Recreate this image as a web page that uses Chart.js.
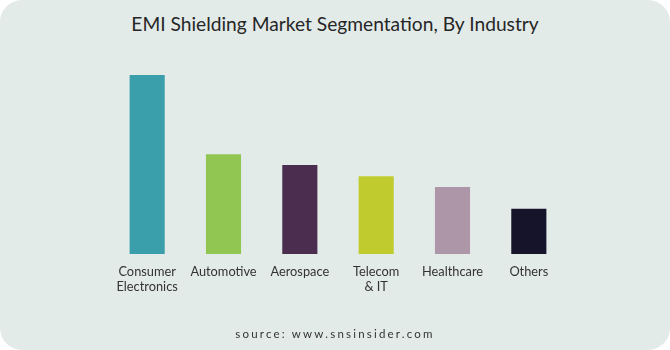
<!DOCTYPE html>
<html>
<head>
<meta charset="utf-8">
<script src="https://cdn.jsdelivr.net/npm/chart.js@4"></script>
<style>
  html, body { margin:0; padding:0; background:#ffffff; }
  #card { position:absolute; left:0; top:0; width:670px; height:350px; background:#e3ebe9; border-radius:22px; overflow:hidden; }
  #title { position:absolute; left:0; top:12px; width:670px; text-align:center; font-family:"Lato", sans-serif; font-size:19.2px; color:#262626; }
  #source { position:absolute; left:0; top:327px; width:670px; text-align:center; font-family:"Lato", sans-serif; font-size:11.5px; letter-spacing:2.2px; color:#333; }
  #wrap { position:absolute; left:0; top:0; width:670px; height:350px; }
</style>
</head>
<body>
<div id="card">
  <div id="title">EMI Shielding Market Segmentation, By Industry</div>
  <div id="wrap"><canvas id="c" width="670" height="350"></canvas></div>
  <div id="source">source: www.snsinsider.com</div>
</div>
<script>
const categories = [["Consumer","Electronics"], "Automotive", "Aerospace", ["Telecom","& IT"], "Healthcare", "Others"];
const shareValues = [40, 22.3, 19.9, 17.4, 15.0, 10.1];
const barColors = ["#3a9faa", "#92c653", "#4a2d4f", "#c0cc2e", "#ad96a8", "#15142a"];

new Chart(document.getElementById('c'), {
  type: 'bar',
  data: {
    labels: categories,
    datasets: [{ data: shareValues, backgroundColor: barColors, borderWidth: 0 }]
  },
  options: {
    responsive: false,
    animation: false,
    layout: { padding: { top: 75, bottom: 56, left: 109, right: 103 } },
    plugins: { legend: { display: false }, tooltip: { enabled: false }, title: { display: false } },
    scales: {
      x: {
        grid: { display: false, drawTicks: false },
        border: { display: false },
        ticks: { padding: 10, color: '#333', font: { family: 'Lato', size: 12.8 }, maxRotation: 0, autoSkip: false },
        afterFit: (s) => { s.height = 40; }
      },
      y: { display: false, min: 0, max: 40 }
    },
    datasets: { bar: { categoryPercentage: 1, barPercentage: 0.46 } }
  }
});
</script>
</body>
</html>
